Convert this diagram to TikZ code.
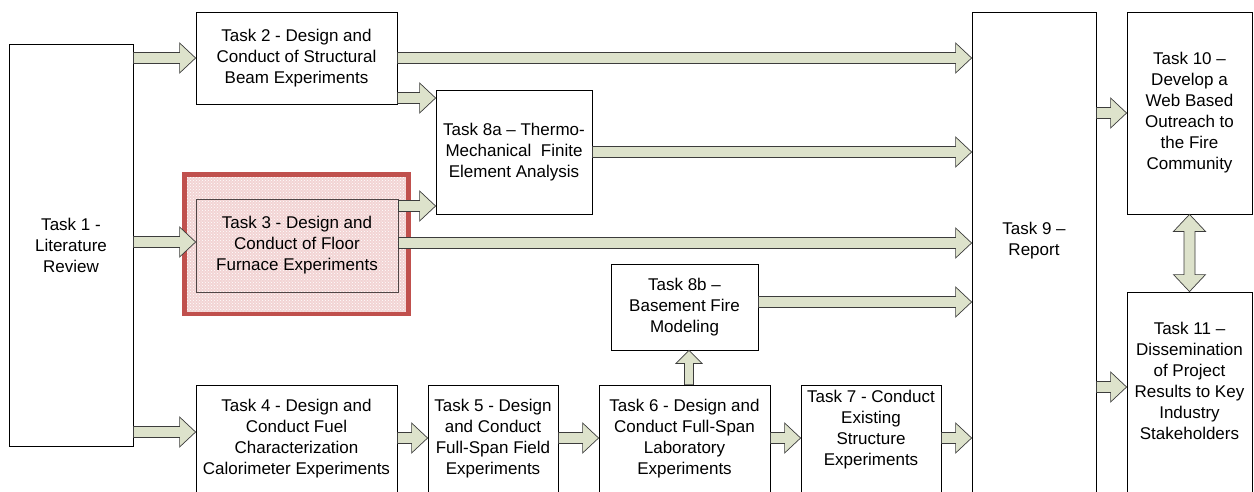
\documentclass[tikz,border=0pt]{standalone}
\usepackage{fontspec}
\setmainfont{Liberation Sans}
\usetikzlibrary{calc,patterns}
\definecolor{arrowfill}{RGB}{221,226,203}
\definecolor{arrowline}{RGB}{60,60,60}
\definecolor{frameRed}{RGB}{192,80,77}
\definecolor{framePink}{RGB}{242,212,212}
\definecolor{innerLine}{RGB}{80,70,70}
\tikzset{
  box/.style={draw=black, line width=0.8pt, fill=white, align=center, inner sep=2pt,
    font=\fontsize{17}{21}\selectfont},
  boxtext/.style={align=center, inner sep=0pt, font=\fontsize{17}{21}\selectfont},
  blockarrow/.style={draw=arrowline, fill=arrowfill, line width=0.7pt, line join=miter},
}
% horizontal block arrow: #1 start anchor, #2 end anchor, #3 y position
\newcommand{\harrow}[3]{%
  \draw[blockarrow] let \p1=(#1 |- 0,#3), \p2=(#2 |- 0,#3) in
    (\x1,\y1+5.5pt) -- (\x2-16pt,\y1+5.5pt) -- (\x2-16pt,\y1+15pt) -- (\x2,\y1)
    -- (\x2-16pt,\y1-15pt) -- (\x2-16pt,\y1-5.5pt) -- (\x1,\y1-5.5pt) -- cycle;}
\begin{document}
\begin{tikzpicture}[x=1pt,y=-1pt]
\useasboundingbox (0,0) rectangle (1254,491);
\clip (0,0) rectangle (1254,491);
\fill[white] (0,0) rectangle (1254,491);

% boxes
\node[box, minimum width=124pt, minimum height=402pt] (t1) at (71,245) {Task 1 -\\Literature\\Review};
\node[box, minimum width=201pt, minimum height=92pt] (t2) at (296.5,58) {Task 2 - Design and\\Conduct of Structural\\Beam Experiments};
\node[box, minimum width=156pt, minimum height=124pt, inner sep=1pt] (t8a) at (514,152) {Task 8a -- Thermo-\\Mechanical\ \ Finite\\Element Analysis};
\node[draw=frameRed, line width=4.5pt, preaction={fill=framePink}, pattern=crosshatch dots, pattern color=white,
      minimum width=224pt, minimum height=139.5pt, inner sep=0pt] (t3frame) at (296.5,244.25) {};
\node[draw=innerLine, line width=0.8pt, align=center, inner sep=2pt, font=\fontsize{17}{21}\selectfont,
      minimum width=202pt, minimum height=93pt] (t3) at (297,245.5) {Task 3 - Design and\\Conduct of Floor\\Furnace Experiments};
\node[box, minimum width=147pt, minimum height=86pt] (t8b) at (684.5,307) {Task 8b --\\Basement Fire\\Modeling};

\node[box, minimum width=201pt, minimum height=135pt] (t4) at (296.5,452.5) {};
\node[boxtext] (t4txt) at (296.5,439) {Task 4 - Design and\\Conduct Fuel\\Characterization\\Calorimeter Experiments};
\node[box, minimum width=130pt, minimum height=135pt] (t5) at (493,452.5) {};
\node[boxtext] (t5txt) at (493,439) {Task 5 - Design\\and Conduct\\Full-Span Field\\Experiments};
\node[box, minimum width=171pt, minimum height=135pt] (t6) at (684.5,452.5) {};
\node[boxtext] (t6txt) at (684.5,439) {Task 6 - Design and\\Conduct Full-Span\\Laboratory\\Experiments};
\node[box, minimum width=140pt, minimum height=135pt] (t7) at (871,452.5) {};
\node[boxtext] (t7txt) at (871,430) {Task 7 - Conduct\\Existing\\Structure\\Experiments};

\node[box, minimum width=124pt, minimum height=508pt] (t9) at (1034,266) {};
\node[boxtext] (t9txt) at (1034,241) {Task 9 --\\Report};
\node[box, minimum width=125pt, minimum height=202pt] (t10) at (1189.5,113) {Task 10 --\\Develop a\\Web Based\\Outreach to\\the Fire\\Community};
\node[box, minimum width=125pt, minimum height=228pt] (t11) at (1189.5,406) {};
\node[boxtext] (t11txt) at (1189.5,381) {Task 11 --\\Dissemination\\of Project\\Results to Key\\Industry\\Stakeholders};

% connectors
\harrow{t1.east}{t2.west}{58}
\harrow{t1.east}{t3.west}{242}
\harrow{t1.east}{t4.west}{432}
\harrow{t2.east}{t9.west}{58}
\harrow{t2.east}{t8a.west}{98}
\harrow{t3.east}{t8a.west}{206}
\harrow{t8a.east}{t9.west}{152}
\harrow{t3.east}{t9.west}{243}
\harrow{t8b.east}{t9.west}{302}
\harrow{t4.east}{t5.west}{438}
\harrow{t5.east}{t6.west}{438}
\harrow{t6.east}{t7.west}{438}
\harrow{t7.east}{t9.west}{438}
\harrow{t9.east}{t10.west}{113}
\harrow{t9.east}{t11.west}{387}

\draw[blockarrow] let \p1=(689,0 |- t6.north), \p2=(689,0 |- t8b.south) in
  (\x1-4.5pt,\y1) -- (\x1-4.5pt,\y2-13pt) -- (\x1-13pt,\y2-13pt) -- (\x1,\y2)
  -- (\x1+13pt,\y2-13pt) -- (\x1+4.5pt,\y2-13pt) -- (\x1+4.5pt,\y1) -- cycle;

\draw[blockarrow] let \p1=(1189.5,0 |- t10.south), \p2=(1189.5,0 |- t11.north) in
  (\x1,\y1) -- (\x1+16pt,\y1-17pt) -- (\x1+5.5pt,\y1-17pt) -- (\x1+5.5pt,\y2+17pt)
  -- (\x1+16pt,\y2+17pt) -- (\x1,\y2) -- (\x1-16pt,\y2+17pt) -- (\x1-5.5pt,\y2+17pt)
  -- (\x1-5.5pt,\y1-17pt) -- (\x1-16pt,\y1-17pt) -- cycle;
\end{tikzpicture}
\end{document}
